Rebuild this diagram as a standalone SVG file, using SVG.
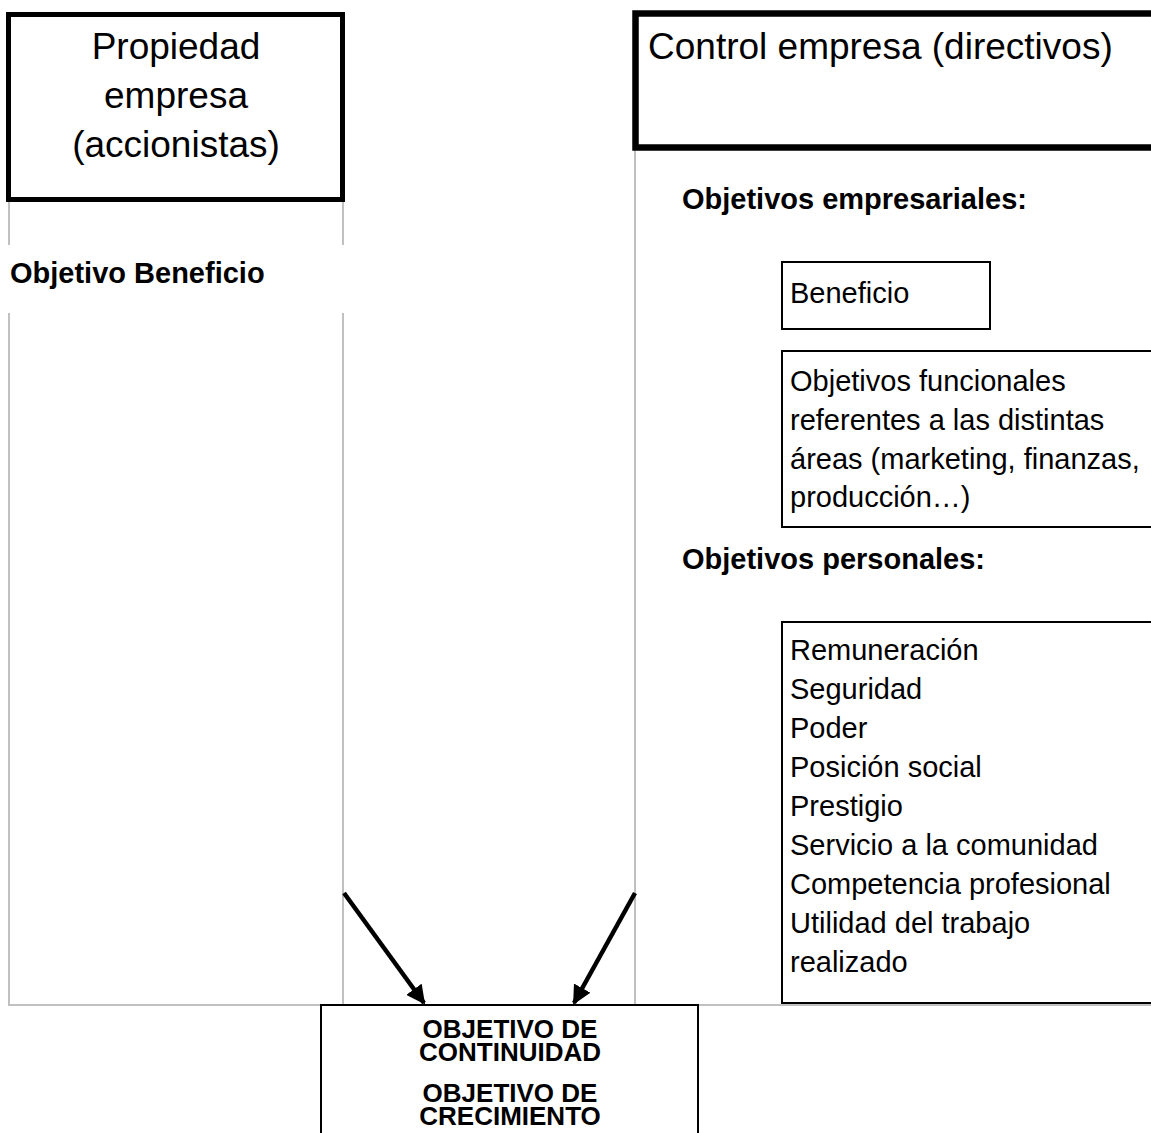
<svg xmlns="http://www.w3.org/2000/svg" width="1151" height="1133" viewBox="0 0 1151 1133">
<style>
.t{font-family:"Liberation Sans",Arial,sans-serif;fill:#000}
.big{font-size:37px}
.reg{font-size:29px}
.bold{font-size:29px;font-weight:bold}
.cap{font-size:26px;font-weight:bold}
.grey{stroke:#c0c0c0;stroke-width:2;fill:none}
.thin{fill:#fff;stroke:#000;stroke-width:2}
.arrow{stroke:#000;stroke-width:4.5;fill:none}
</style>
<defs>
<marker id="ah" viewBox="0 0 10 10" refX="9" refY="5" markerWidth="4.2" markerHeight="4.2" orient="auto" markerUnits="strokeWidth">
<path d="M0,0 L10,5 L0,10 z" fill="#000"/>
</marker>
</defs>
<rect width="1151" height="1133" fill="#fff"/>
<g id="guides">
<line class="grey" x1="9" y1="200" x2="9" y2="245"/>
<line class="grey" x1="9" y1="313" x2="9" y2="1005"/>
<line class="grey" x1="343" y1="200" x2="343" y2="245"/>
<line class="grey" x1="343" y1="313" x2="343" y2="1005"/>
<line class="grey" x1="635" y1="148" x2="635" y2="1005"/>
<line class="grey" x1="8" y1="1005" x2="1151" y2="1005"/>
</g>
<g id="propiedad">
<rect x="8.5" y="14.5" width="334" height="185" fill="#fff" stroke="#000" stroke-width="5"/>
<text class="t big" x="176" text-anchor="middle"><tspan x="176" y="59">Propiedad</tspan><tspan x="176" y="108">empresa</tspan><tspan x="176" y="157">(accionistas)</tspan></text>
</g>
<g id="objetivo-beneficio">
<text class="t bold" x="10" y="283">Objetivo Beneficio</text>
</g>
<g id="control">
<rect x="635.5" y="13.5" width="530" height="134" fill="#fff" stroke="#000" stroke-width="6.5"/>
<text class="t big" x="648" y="59">Control empresa (directivos)</text>
</g>
<g id="obj-empresariales">
<text class="t bold" x="682" y="209">Objetivos empresariales:</text>
</g>
<g id="beneficio">
<rect class="thin" x="782" y="262" width="208" height="67"/>
<text class="t reg" x="790" y="303">Beneficio</text>
</g>
<g id="funcionales">
<rect class="thin" x="782" y="351" width="380" height="176"/>
<text class="t reg"><tspan x="790" y="391">Objetivos funcionales</tspan><tspan x="790" y="430">referentes a las distintas</tspan><tspan x="790" y="469">áreas (marketing, finanzas,</tspan><tspan x="790" y="507">producción…)</tspan></text>
</g>
<g id="obj-personales">
<text class="t bold" x="682" y="569">Objetivos personales:</text>
</g>
<g id="personales">
<rect class="thin" x="782" y="622" width="380" height="381"/>
<text class="t reg"><tspan x="790" y="660">Remuneración</tspan><tspan x="790" y="699">Seguridad</tspan><tspan x="790" y="738">Poder</tspan><tspan x="790" y="777">Posición social</tspan><tspan x="790" y="816">Prestigio</tspan><tspan x="790" y="855">Servicio a la comunidad</tspan><tspan x="790" y="894">Competencia profesional</tspan><tspan x="790" y="933">Utilidad del trabajo</tspan><tspan x="790" y="972">realizado</tspan></text>
</g>
<g id="connectors">
<line class="arrow" x1="344" y1="893" x2="424" y2="1003" marker-end="url(#ah)"/>
<line class="arrow" x1="635" y1="893" x2="574" y2="1003" marker-end="url(#ah)"/>
</g>
<g id="continuidad">
<rect x="321" y="1005" width="377" height="140" fill="#fff" stroke="#000" stroke-width="2"/>
<text class="t cap" text-anchor="middle"><tspan x="510" y="1038">OBJETIVO DE</tspan><tspan x="510" y="1061">CONTINUIDAD</tspan><tspan x="510" y="1102">OBJETIVO DE</tspan><tspan x="510" y="1125">CRECIMIENTO</tspan></text>
</g>
</svg>
